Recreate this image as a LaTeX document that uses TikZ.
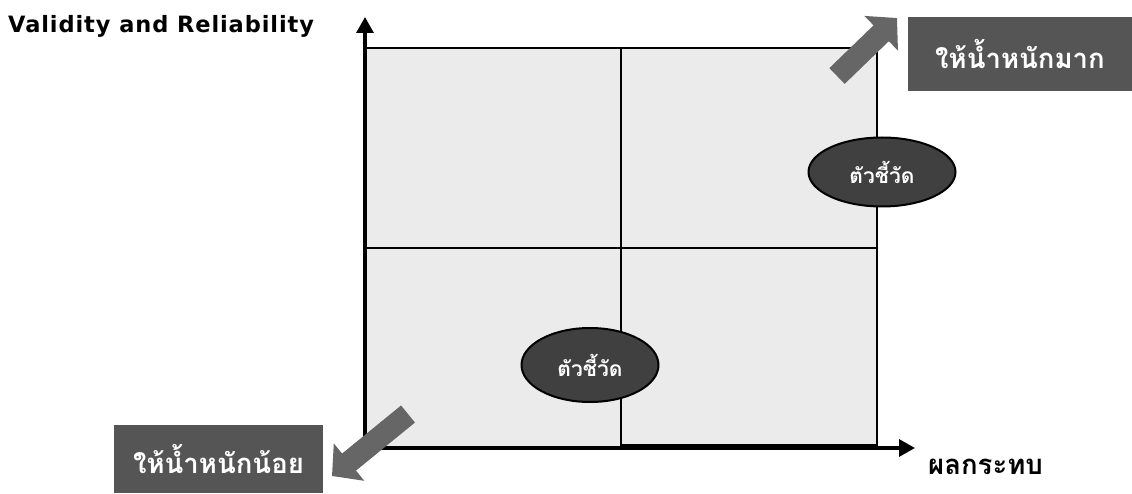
\documentclass[tikz,border=0pt]{standalone}
\usepackage{fontspec}
\setmainfont[Script=Thai]{Loma}
\newfontfamily\latinfont[LetterSpace=4]{DejaVu Sans}
\usetikzlibrary{arrows.meta,shapes.geometric}
\definecolor{quadfill}{HTML}{EBEBEB}
\definecolor{ovalfill}{HTML}{404040}
\definecolor{tagfill}{HTML}{555555}
\definecolor{arrowfill}{HTML}{666666}
\tikzset{
  quad/.style={draw=black, line width=2pt, fill=quadfill, inner sep=0pt, minimum width=256pt, minimum height=200pt},
  axis/.style={line width=3.2pt, -{Triangle[length=16pt,width=17pt]}},
  oval/.style={ellipse, draw=black, line width=2pt, fill=ovalfill, text=white, inner sep=0pt, font=\fontsize{21pt}{24pt}\selectfont\bfseries},
  tag/.style={fill=tagfill, text=white, inner sep=0pt, font=\fontsize{27.5pt}{30pt}\selectfont\bfseries},
  bigarrow/.style={draw=arrowfill, fill=arrowfill, line width=22pt, -{Triangle[length=22pt,width=47pt]}},
  axislabel/.style={inner sep=0pt, font=\fontsize{27.5pt}{30pt}\selectfont\bfseries}
}
\begin{document}
\begin{tikzpicture}[x=1pt,y=-1pt]
\useasboundingbox (0,0) rectangle (1132,494);
% quadrants
\node[quad] (q1) at (493,148) {};
\node[quad] (q2) at (749,148) {};
\node[quad] (q3) at (493,348) {};
\node[quad, minimum height=197pt] (q4) at (749,346.5) {};
% axes
\coordinate (o) at (365,448);
\coordinate (ytip) at (365,17);
\coordinate (xtip) at (915,448);
\draw[axis] (o) -- (ytip);
\draw[axis] ([xshift=-1.6pt]o) -- (xtip);
% axis labels
\node[inner sep=0pt, anchor=west, font=\latinfont\fontsize{22.5pt}{25pt}\selectfont\bfseries] (ylab) at (8,26) {Validity and Reliability};
\node[axislabel, anchor=west] (xlab) at (928,467) {ผลกระทบ};
% ovals
\node[oval, minimum width=137pt, minimum height=74pt] (o1) at (590,365) {ตัวชี้วัด};
\node[oval, minimum width=147pt, minimum height=69pt] (o2) at (882,172) {ตัวชี้วัด};
% tags
\node[tag, minimum width=224pt, minimum height=74pt] (t1) at (1020,54) {ให้น้ำหนักมาก};
\node[tag, minimum width=209pt, minimum height=68pt] (t2) at (218.5,459) {ให้น้ำหนักน้อย};
% block arrows
\coordinate (a1s) at (837,76);
\coordinate (a1e) at (897,18);
\coordinate (a2s) at (408,414);
\coordinate (a2e) at (332,476);
\draw[bigarrow] (a1s) -- (a1e);
\draw[bigarrow] (a2s) -- (a2e);
\end{tikzpicture}
\end{document}
